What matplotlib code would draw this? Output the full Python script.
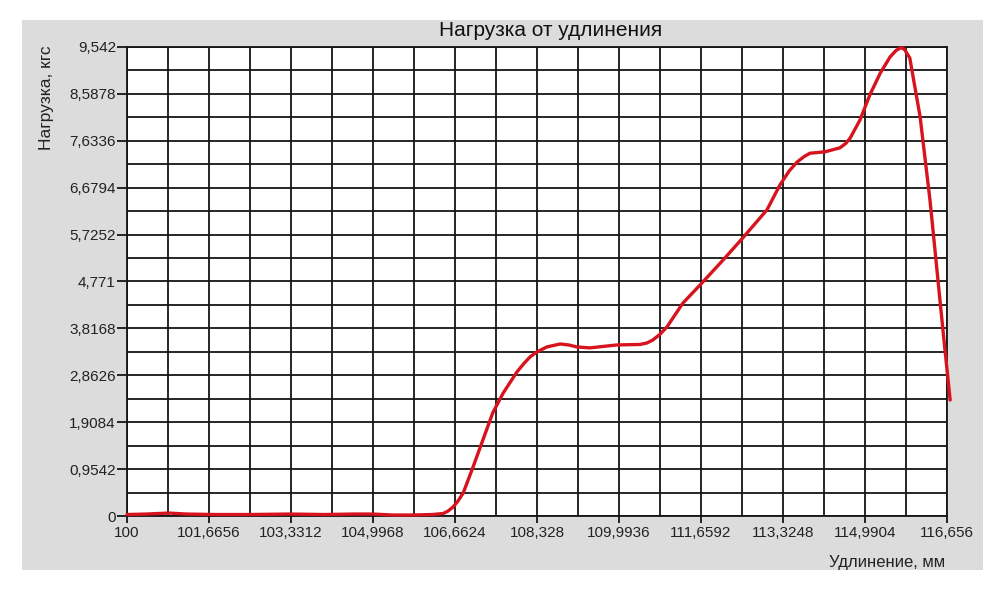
import matplotlib.pyplot as plt
from matplotlib.patches import Rectangle

plt.rcParams['font.family'] = ['Liberation Sans', 'DejaVu Sans']

# elongation, mm
elong = [100.0, 100.4, 100.85, 101.2, 101.8, 102.5, 103.3, 104.0, 104.6, 105.0,
         105.4, 105.8, 106.2, 106.42, 106.52, 106.62, 106.72, 106.83, 107.03, 107.23,
         107.43, 107.64, 107.92, 108.06, 108.19, 108.33, 108.53, 108.80, 108.97, 109.14,
         109.40, 109.95, 110.42, 110.56, 110.68, 110.83, 110.97, 111.29, 111.64, 112.11,
         112.51, 113.0, 113.13, 113.26, 113.45, 113.61, 113.75, 113.87, 114.18, 114.48,
         114.60, 114.69, 114.89, 115.09, 115.30, 115.50, 115.62, 115.70, 115.76, 115.80,
         115.90, 116.11, 116.31, 116.58, 116.72]
# load, kgf
load = [0.03, 0.04, 0.06, 0.04, 0.03, 0.03, 0.04, 0.03, 0.04, 0.04,
        0.02, 0.02, 0.03, 0.05, 0.10, 0.18, 0.30, 0.47, 1.0, 1.55,
        2.1, 2.5, 2.93, 3.10, 3.24, 3.34, 3.44, 3.50, 3.48, 3.44,
        3.42, 3.48, 3.49, 3.52, 3.58, 3.70, 3.85, 4.33, 4.70, 5.21,
        5.66, 6.23, 6.48, 6.73, 7.02, 7.20, 7.31, 7.38, 7.41, 7.49,
        7.58, 7.69, 8.06, 8.57, 9.01, 9.34, 9.47, 9.52, 9.52, 9.48,
        9.32, 8.12, 6.43, 3.72, 2.36]

x_ticks = [100 + i * 1.6656 for i in range(11)]
x_labels = ['100', '101,6656', '103,3312', '104,9968', '106,6624', '108,328',
            '109,9936', '111,6592', '113,3248', '114,9904', '116,656']
y_ticks = [i * 0.9542 for i in range(11)]
y_labels = ['0', '0,9542', '1,9084', '2,8626', '3,8168', '4,771', '5,7252',
            '6,6794', '7,6336', '8,5878', '9,542']

fig = plt.figure(figsize=(10, 5.91), dpi=100)
fig.patches.append(Rectangle((0.022, 0.0355), 0.961, 0.9305, transform=fig.transFigure,
                             facecolor='#dcdcdc', edgecolor='none', zorder=-10))
ax = fig.add_axes([0.127, 0.1269, 0.82, 0.7936])
ax.set_facecolor('white')

ax.plot(elong, load, color='#d7141e', lw=2.4, clip_on=False, zorder=5,
        solid_joinstyle='round', solid_capstyle='round')

ax.set_xlim(100, 116.656)
ax.set_ylim(0, 9.542)
ax.set_xticks(x_ticks)
ax.set_xticklabels(x_labels)
ax.set_yticks(y_ticks)
ax.set_yticklabels(y_labels)
# half-step grid lines between the labelled ones
ax.set_xticks([t + 0.8328 for t in x_ticks[:-1]], minor=True)
ax.set_yticks([t + 0.4771 for t in y_ticks[:-1]], minor=True)

ax.grid(which='both', color='#151515', lw=1.3)
ax.set_axisbelow(True)
for s in ax.spines.values():
    s.set_color('#151515')
    s.set_linewidth(1.3)

ax.tick_params(axis='both', which='major', labelsize=11, color='#151515', width=1.3,
               labelcolor='#222222')
ax.tick_params(axis='y', which='major', length=7, pad=1)
ax.tick_params(axis='x', which='major', length=5, pad=2)
ax.tick_params(axis='both', which='minor', length=0)

fig.text(0.551, 1 - 30 / 591, 'Нагрузка от удлинения', ha='center', va='center',
         fontsize=15, color='#111111')
fig.text(0.046, 1 - 45 / 591, 'Нагрузка, кгс', rotation=90, ha='center', va='top',
         fontsize=12.5, color='#222222')
fig.text(0.945, 1 - 562 / 591, 'Удлинение, мм', ha='right', va='center',
         fontsize=12, color='#222222')

fig.savefig('out.png', dpi=100)
